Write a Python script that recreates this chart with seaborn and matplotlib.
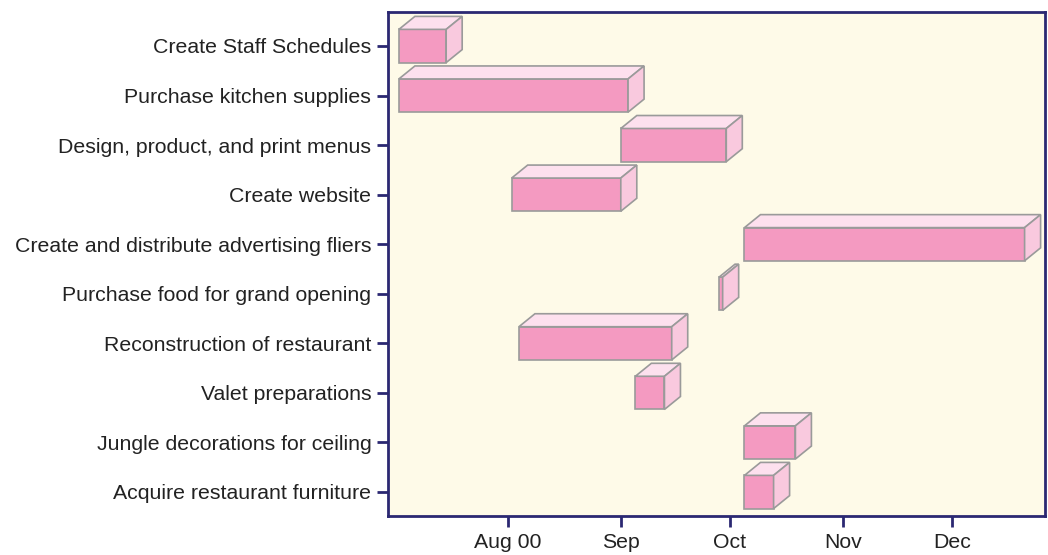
import matplotlib
matplotlib.use("Agg")
import matplotlib.pyplot as plt
import matplotlib.dates as mdates
from matplotlib.patches import Polygon
import pandas as pd
import seaborn as sns

# task list, top to bottom
tasks = [
    "Create Staff Schedules",
    "Purchase kitchen supplies",
    "Design, product, and print menus",
    "Create website",
    "Create and distribute advertising fliers",
    "Purchase food for grand opening",
    "Reconstruction of restaurant",
    "Valet preparations",
    "Jungle decorations for ceiling",
    "Acquire restaurant furniture",
]
starts = ["2000-07-02", "2000-07-02", "2000-09-01", "2000-08-02", "2000-10-05",
          "2000-09-28", "2000-08-04", "2000-09-05", "2000-10-05", "2000-10-05"]
ends = ["2000-07-15", "2000-09-03", "2000-09-30", "2000-09-01", "2000-12-21",
        "2000-09-29", "2000-09-15", "2000-09-13", "2000-10-19", "2000-10-13"]
tick_dates = ["2000-08-01", "2000-09-01", "2000-10-01", "2000-11-01", "2000-12-01"]
tick_labels = ["Aug 00", "Sep", "Oct", "Nov", "Dec"]

df = pd.DataFrame({"task": tasks,
                   "start": mdates.date2num(pd.to_datetime(starts)),
                   "end": mdates.date2num(pd.to_datetime(ends))})

sns.set_style("white")
plt.rcParams["font.family"] = ["Liberation Sans", "DejaVu Sans"]

navy = "#2b2872"
front_col = "#f49ac1"
top_col = "#fde0ee"
side_col = "#f9c9de"
edge_col = "#9a9a9a"

fig = plt.figure(figsize=(10.48, 5.55), dpi=100)
ax = fig.add_axes([0.3702, 0.0703, 0.6269, 0.9081])
ax.set_facecolor("#fefae8")

h = 0.67      # bar thickness (rows)
dx = 4.4      # depth in days
dy = 0.262    # depth in rows

for i, row in df.iterrows():
    s, e = row["start"], row["end"]
    top, bot = i - h / 2, i + h / 2
    ax.barh(i, e - s, left=s, height=h, color=front_col,
            edgecolor=edge_col, linewidth=1.2, zorder=3)
    ax.add_patch(Polygon([(s, top), (e, top), (e + dx, top - dy), (s + dx, top - dy)],
                         closed=True, facecolor=top_col, edgecolor=edge_col,
                         linewidth=1.2, zorder=3))
    ax.add_patch(Polygon([(e, top), (e + dx, top - dy), (e + dx, bot - dy), (e, bot)],
                         closed=True, facecolor=side_col, edgecolor=edge_col,
                         linewidth=1.2, zorder=3))

aug1 = mdates.date2num(pd.Timestamp("2000-08-01"))
ax.set_xlim(aug1 - 33.0, aug1 + 147.6)
ax.set_ylim(9.484, -0.686)

ax.set_yticks(range(len(tasks)))
ax.set_yticklabels(tasks, fontsize=15.3, color="#222222")
ax.set_xticks(mdates.date2num(pd.to_datetime(tick_dates)))
ax.set_xticklabels(tick_labels, fontsize=15.3, color="#222222")

ax.tick_params(axis="both", direction="out", length=8, width=2, color=navy,
               left=True, bottom=True, pad=4)
for sp in ax.spines.values():
    sp.set_color(navy)
    sp.set_linewidth(2)
    sp.set_visible(True)

fig.savefig("out.png", dpi=100)
